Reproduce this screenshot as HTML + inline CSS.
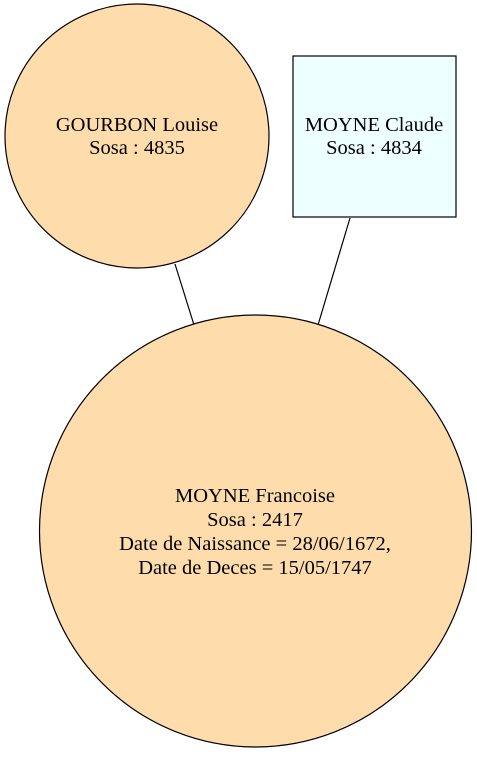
<!DOCTYPE html>
<html><head><meta charset="utf-8"><style>html,body{margin:0;padding:0;background:#fff}</style></head>
<body>
<svg width="477" height="754" viewBox="0 0 477 754" xmlns="http://www.w3.org/2000/svg" font-family="Liberation Serif, serif" font-size="20.5" text-anchor="middle">
<rect width="477" height="754" fill="#fff"/>
<line x1="175" y1="264" x2="194" y2="325" stroke="#000" stroke-width="1.2"/>
<line x1="350" y1="218" x2="318" y2="325" stroke="#000" stroke-width="1.2"/>
<circle cx="137" cy="136" r="132" fill="#fedcac" stroke="#000" stroke-width="1.2"/>
<rect x="293" y="56" width="163" height="161" fill="#eeffff" stroke="#000" stroke-width="1.2"/>
<circle cx="255.5" cy="531" r="216" fill="#fedcac" stroke="#000" stroke-width="1.2"/>
<text x="137" y="131">GOURBON Louise</text>
<text x="137" y="154">Sosa : 4835</text>
<text x="374" y="131">MOYNE Claude</text>
<text x="374" y="154">Sosa : 4834</text>
<text x="255" y="502">MOYNE Francoise</text>
<text x="255" y="526">Sosa : 2417</text>
<text x="255" y="550">Date de Naissance = 28/06/1672,</text>
<text x="255" y="574">Date de Deces = 15/05/1747</text>
</svg>
</body></html>
